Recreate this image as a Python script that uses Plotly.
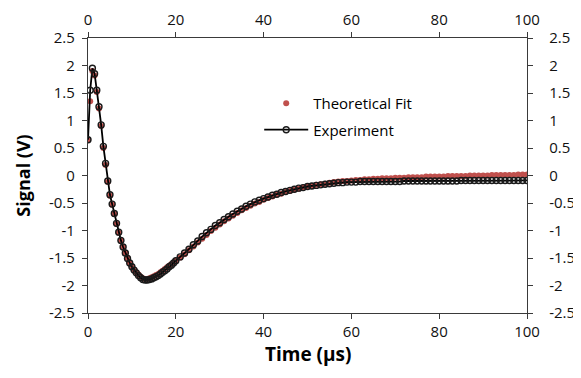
import plotly.graph_objects as go

# ---- data ----
time_us = [0, 0.5, 1, 1.5, 2, 2.5, 3, 3.5, 4, 4.5, 5, 5.5, 6, 6.5, 7, 7.5, 8, 8.5, 9, 9.5,
           10, 10.5, 11, 11.5, 12, 12.5, 13, 13.5, 14, 14.5, 15, 15.5, 16, 16.5, 17, 17.5, 18, 18.5, 19, 19.5,
           20, 21, 22, 23, 24, 25, 26, 27, 28, 29, 30, 31, 32, 33, 34, 35, 36, 37, 38, 39,
           40, 41, 42, 43, 44, 45, 46, 47, 48, 49, 50, 51, 52, 53, 54, 55, 56, 57, 58, 59,
           60, 61, 62, 63, 64, 65, 66, 67, 68, 69, 70, 71, 72, 73, 74, 75, 76, 77, 78, 79,
           80, 81, 82, 83, 84, 85, 86, 87, 88, 89, 90, 91, 92, 93, 94, 95, 96, 97, 98, 99, 100]

experiment = [0.65, 1.55, 1.95, 1.85, 1.55, 1.25, 0.92, 0.53, 0.22, -0.10, -0.35, -0.52, -0.69, -0.87, -1.03, -1.18, -1.30, -1.41, -1.51, -1.59,
              -1.66, -1.72, -1.77, -1.82, -1.86, -1.89, -1.90, -1.90, -1.89, -1.88, -1.86, -1.84, -1.82, -1.79, -1.76, -1.73, -1.70, -1.66, -1.63, -1.59,
              -1.55, -1.48, -1.41, -1.34, -1.26, -1.19, -1.11, -1.04, -0.98, -0.91, -0.86, -0.80, -0.75, -0.70, -0.65, -0.61, -0.56, -0.52, -0.48, -0.45,
              -0.42, -0.39, -0.36, -0.34, -0.31, -0.29, -0.27, -0.25, -0.23, -0.22, -0.20, -0.19, -0.18, -0.17, -0.16, -0.15, -0.14, -0.13, -0.13, -0.12,
              -0.12, -0.12, -0.11, -0.11, -0.11, -0.11, -0.11, -0.11, -0.11, -0.11, -0.11, -0.11, -0.10, -0.10, -0.10, -0.10, -0.10, -0.10, -0.10, -0.10,
              -0.10, -0.10, -0.10, -0.10, -0.10, -0.09, -0.09, -0.09, -0.09, -0.09, -0.09, -0.09, -0.09, -0.09, -0.09, -0.09, -0.09, -0.09, -0.09, -0.09, -0.09]

theoretical_fit = [0.65, 1.35, 1.90, 1.82, 1.52, 1.22, 0.90, 0.50, 0.19, -0.12, -0.37, -0.53, -0.70, -0.88, -1.04, -1.18, -1.30, -1.40, -1.50, -1.58,
                   -1.65, -1.71, -1.76, -1.80, -1.84, -1.87, -1.88, -1.88, -1.87, -1.85, -1.83, -1.81, -1.79, -1.76, -1.73, -1.70, -1.67, -1.64, -1.61, -1.58,
                   -1.55, -1.49, -1.43, -1.36, -1.29, -1.22, -1.15, -1.08, -1.01, -0.95, -0.89, -0.83, -0.78, -0.73, -0.68, -0.63, -0.59, -0.55, -0.51, -0.48,
                   -0.44, -0.41, -0.38, -0.35, -0.33, -0.30, -0.28, -0.26, -0.24, -0.22, -0.20, -0.19, -0.17, -0.16, -0.15, -0.13, -0.12, -0.11, -0.10, -0.10,
                   -0.09, -0.08, -0.08, -0.07, -0.07, -0.06, -0.06, -0.05, -0.05, -0.05, -0.04, -0.04, -0.04, -0.03, -0.03, -0.03, -0.03, -0.02, -0.02, -0.02,
                   -0.02, -0.02, -0.01, -0.01, -0.01, -0.01, -0.01, 0.00, 0.00, 0.00, 0.00, 0.00, 0.01, 0.01, 0.01, 0.01, 0.01, 0.01, 0.02, 0.02, 0.02]

x_ticks = [0, 20, 40, 60, 80, 100]
y_ticks = [2.5, 2, 1.5, 1, 0.5, 0, -0.5, -1, -1.5, -2, -2.5]
y_tick_text = ["2.5", "2", "1.5", "1", "0.5", "0", "-0.5", "-1", "-1.5", "-2", "-2.5"]

FONT = "Open Sans"
AX = "#3a3a3a"

fig = go.Figure()
fig.add_trace(go.Scatter(
    x=time_us, y=theoretical_fit, mode="markers", name="Theoretical Fit",
    marker=dict(color="#C0504D", size=6, line=dict(width=0)),
    legendgroup="a"))
fig.add_trace(go.Scatter(
    x=time_us, y=experiment, mode="lines+markers", name="Experiment",
    line=dict(color="black", width=1.8),
    marker=dict(symbol="circle-open", color="#1a1a1a", size=6, line=dict(width=1.4)),
    legendgroup="b"))
# empty trace to activate the mirrored top/right axes
fig.add_trace(go.Scatter(x=[], y=[], xaxis="x2", yaxis="y2", showlegend=False))

axis_common = dict(showgrid=False, zeroline=False, showline=True, linecolor=AX, linewidth=1.3,
                   ticks="outside", ticklen=5, tickwidth=1.3, tickcolor=AX, automargin=False,
                   tickfont=dict(family=FONT, size=15, color="#111111"))

# page body has an 8px margin, so the figure is sized to the remaining viewport
fig.update_layout(
    width=573, height=370,
    margin=dict(l=80, r=54, t=30, b=65),
    paper_bgcolor="white", plot_bgcolor="white",
    showlegend=True,
    legend=dict(x=0.39, y=0.822, xanchor="left", yanchor="top", itemwidth=44,
                bgcolor="rgba(0,0,0,0)", font=dict(family=FONT, size=15, color="black"),
                tracegroupgap=4),
    xaxis=dict(range=[0, 100], tickvals=x_ticks, **axis_common),
    yaxis=dict(range=[-2.5, 2.5], tickvals=y_ticks, ticktext=y_tick_text, ticklabelstandoff=4, **axis_common),
    xaxis2=dict(range=[0, 100], tickvals=x_ticks, overlaying="x", side="top", anchor="y",
                ticklabelstandoff=1, **axis_common),
    yaxis2=dict(range=[-2.5, 2.5], tickvals=y_ticks, ticktext=y_tick_text, overlaying="y", side="right",
                anchor="x", ticklabelstandoff=13, **axis_common),
    annotations=[
        dict(text="<b>Time (μs)</b>", xref="paper", yref="paper", x=0.5, y=-0.15,
             xanchor="center", yanchor="middle", showarrow=False,
             font=dict(family=FONT, size=19, color="black")),
        dict(text="<b>Signal (V)</b>", xref="paper", yref="paper", x=-0.15, y=0.5,
             xanchor="center", yanchor="middle", showarrow=False, textangle=-90,
             font=dict(family=FONT, size=18, color="black")),
    ],
)

fig.write_html("out.html")
